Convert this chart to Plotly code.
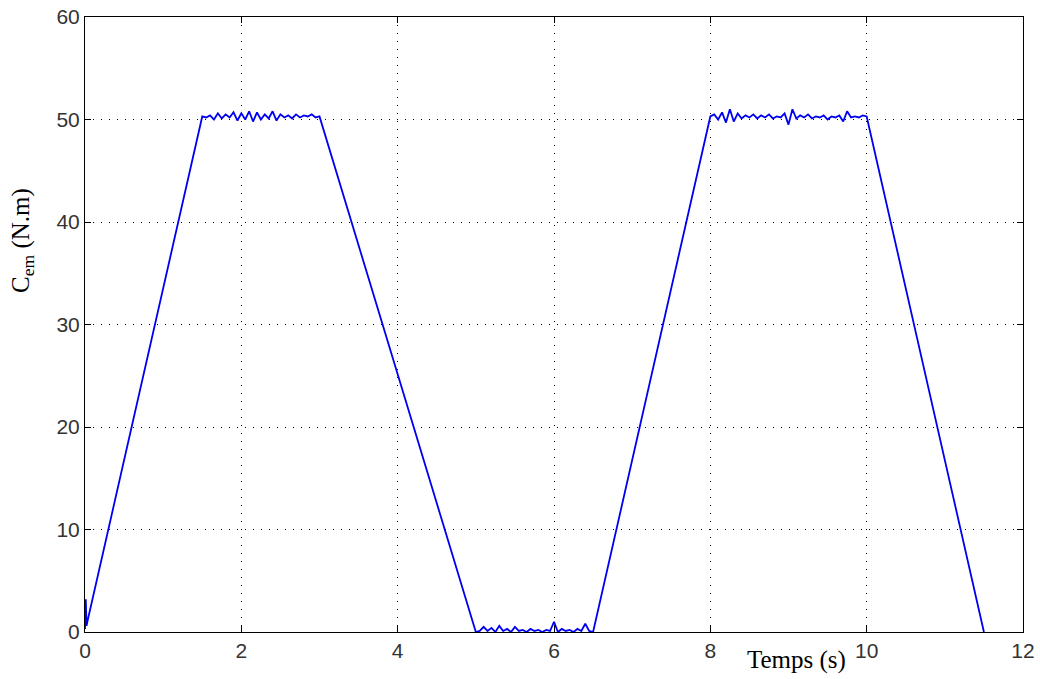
import plotly.graph_objects as go

# ---- data ----
t_start = [0.0, 0.01, 0.02, 0.03]
v_start = [0.3, 3.2, 0.6, 1.0]

t_plat1 = [1.50, 1.55, 1.60, 1.65, 1.70, 1.75, 1.80, 1.85, 1.90, 1.95, 2.00,
           2.05, 2.10, 2.15, 2.20, 2.25, 2.30, 2.35, 2.40, 2.45, 2.50, 2.55,
           2.60, 2.65, 2.70, 2.75, 2.80, 2.85, 2.90, 2.95, 3.00]
v_plat1 = [50.3, 50.2, 50.4, 50.0, 50.6, 50.1, 50.5, 50.2, 50.7, 49.9, 50.6,
           50.0, 50.8, 49.8, 50.7, 50.0, 50.5, 50.1, 50.8, 49.9, 50.5, 50.2,
           50.4, 50.1, 50.5, 50.2, 50.4, 50.3, 50.5, 50.2, 50.3]

t_zero = [5.00, 5.05, 5.10, 5.15, 5.20, 5.25, 5.30, 5.35, 5.40, 5.45, 5.50,
          5.55, 5.60, 5.65, 5.70, 5.75, 5.80, 5.85, 5.90, 5.95, 6.00, 6.05,
          6.10, 6.15, 6.20, 6.25, 6.30, 6.35, 6.40, 6.45, 6.50]
v_zero = [0.0, 0.1, 0.5, 0.1, 0.4, 0.0, 0.6, 0.1, 0.3, 0.0, 0.5,
          0.1, 0.2, 0.0, 0.3, 0.1, 0.2, 0.0, 0.2, 0.1, 1.0, 0.0,
          0.3, 0.1, 0.2, 0.0, 0.3, 0.1, 0.8, 0.1, 0.0]

t_plat2 = [8.00, 8.05, 8.10, 8.15, 8.20, 8.25, 8.30, 8.35, 8.40, 8.45, 8.50,
           8.55, 8.60, 8.65, 8.70, 8.75, 8.80, 8.85, 8.90, 8.95, 9.00, 9.05,
           9.10, 9.15, 9.20, 9.25, 9.30, 9.35, 9.40, 9.45, 9.50, 9.55, 9.60,
           9.65, 9.70, 9.75, 9.80, 9.85, 9.90, 9.95, 10.00]
v_plat2 = [50.3, 50.5, 50.0, 50.7, 49.7, 51.0, 49.8, 50.6, 50.1, 50.4, 50.2,
           50.5, 50.1, 50.4, 50.2, 50.5, 50.1, 50.3, 50.2, 50.6, 49.5, 51.0,
           50.1, 50.4, 50.2, 50.5, 50.1, 50.3, 50.2, 50.4, 50.0, 50.3, 50.2,
           50.4, 49.8, 50.8, 50.2, 50.3, 50.2, 50.4, 50.3]

t_end = [11.50]
v_end = [0.0]

time = t_start + t_plat1 + t_zero + t_plat2 + t_end
torque = v_start + v_plat1 + v_zero + v_plat2 + v_end

x_ticks = [0, 2, 4, 6, 8, 10, 12]
y_ticks = [0, 10, 20, 30, 40, 50, 60]

fig = go.Figure()
fig.add_trace(go.Scatter(x=time, y=torque, mode="lines",
                         line=dict(color="#0000f0", width=1.8),
                         showlegend=False))

axis_common = dict(
    showline=True, linecolor="black", linewidth=1, mirror="ticks",
    ticks="inside", ticklen=6, tickcolor="black", tickwidth=1,
    showgrid=True, gridcolor="black", gridwidth=1, griddash="1px,7px",
    zeroline=False, automargin=False, ticklabeloverflow="allow",
    tickfont=dict(family="Arial", size=21, color="#333333"),
)

fig.update_xaxes(range=[0, 12], tickvals=x_ticks, ticktext=[str(v) for v in x_ticks],
                 **axis_common)
fig.update_yaxes(range=[0, 60], tickvals=y_ticks, ticktext=[str(v) for v in y_ticks],
                 **axis_common)

fig.add_annotation(text="Temps (s)", xref="paper", yref="paper",
                   x=0.759, y=-0.0455, xanchor="center", yanchor="middle",
                   showarrow=False,
                   font=dict(family="Times New Roman", size=25, color="black"))
fig.add_annotation(text="C<sub>em</sub> (N.m)", xref="paper", yref="paper",
                   x=-0.066, y=0.636, xanchor="center", yanchor="middle",
                   textangle=-90, showarrow=False,
                   font=dict(family="Times New Roman", size=25, color="black"))

fig.update_layout(width=1040, height=679,
                  margin=dict(l=85, r=17, t=17, b=47, autoexpand=False),
                  plot_bgcolor="white", paper_bgcolor="white")

fig.write_html("out.html", config={"displayModeBar": False},
               post_script="document.body.style.margin='0';document.body.style.overflow='hidden';")
